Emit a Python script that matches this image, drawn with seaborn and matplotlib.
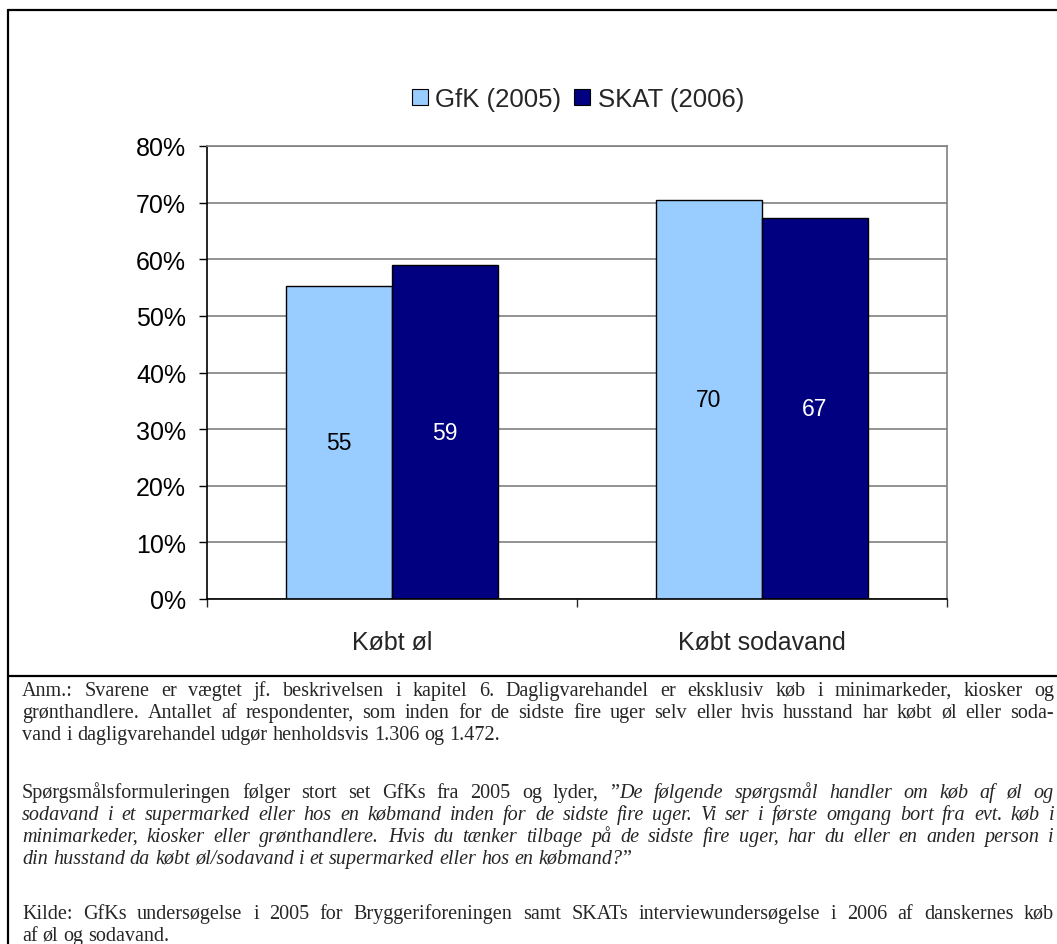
import seaborn as sns, matplotlib.pyplot as plt, pandas as pd
from matplotlib.patches import Patch
from matplotlib.lines import Line2D

categories = ["Købt øl", "Købt sodavand"]
series = ["GfK (2005)", "SKAT (2006)"]
gfk = [55.2, 70.4]
skat = [58.9, 67.3]
colors = ["#99CCFF", "#000080"]
label_colors = ["black", "white"]
yticks = [0, 10, 20, 30, 40, 50, 60, 70, 80]

notes = [
    ["Anm.: Svarene er vægtet jf. beskrivelsen i kapitel 6. Dagligvarehandel er eksklusiv køb i minimarkeder, kiosker og",
     "grønthandlere. Antallet af respondenter, som inden for de sidste fire uger selv eller hvis husstand har købt øl eller soda-",
     "vand i dagligvarehandel udgør henholdsvis 1.306 og 1.472."],
    ["Spørgsmålsformuleringen følger stort set GfKs fra 2005 og lyder, ”*De følgende spørgsmål handler om køb af øl og",
     "sodavand i et supermarked eller hos en købmand inden for de sidste fire uger. Vi ser i første omgang bort fra evt. køb i",
     "minimarkeder, kiosker eller grønthandlere. Hvis du tænker tilbage på de sidste fire uger, har du eller en anden person i",
     "din husstand da købt øl/sodavand i et supermarked eller hos en købmand?*”"],
    ["Kilde: GfKs undersøgelse i 2005 for Bryggeriforeningen samt SKATs interviewundersøgelse i 2006 af danskernes køb",
     "af øl og sodavand."],
]

W, H = 1057, 945
sns.set_style("white")
plt.rcParams["font.family"] = ["Liberation Sans", "DejaVu Sans"]

df = pd.DataFrame({
    "category": categories * 2,
    "series": [series[0]] * 2 + [series[1]] * 2,
    "value": gfk + skat,
})

fig = plt.figure(figsize=(W / 100, H / 100), dpi=100)
ax = fig.add_axes([207 / W, 1 - 600 / H, 740 / W, 453 / H])
sns.barplot(data=df, x="category", y="value", hue="series", order=categories,
            hue_order=series, palette=dict(zip(series, colors)), width=0.573,
            saturation=1, edgecolor="black", linewidth=1, legend=False, ax=ax)

for cont, lc in zip(ax.containers, label_colors):
    ax.bar_label(cont, fmt="%.0f", label_type="center", color=lc, fontsize=16.5)

ax.set_ylim(0, 80)
ax.set_xlim(-0.5, 1.5)
ax.set_yticks(yticks)
ax.set_yticklabels([f"{v}%" for v in yticks], fontsize=18)
ax.yaxis.grid(True, color="#808080", lw=1.2)
ax.set_axisbelow(True)
ax.tick_params(axis="y", direction="out", length=6, width=1, pad=9, left=True, colors="black")
ax.set_xticks([-0.5, 0.5, 1.5], minor=True)
ax.tick_params(axis="x", which="minor", direction="out", length=6, width=1, bottom=True)
ax.tick_params(axis="x", which="major", length=0, pad=22, labelsize=18)
ax.set_xlabel("")
ax.set_ylabel("")
for s in ["left", "bottom"]:
    ax.spines[s].set_color("black")
    ax.spines[s].set_linewidth(1.2)
for s in ["top", "right"]:
    ax.spines[s].set_color("#808080")
    ax.spines[s].set_linewidth(1.2)

handles = [Patch(facecolor=c, edgecolor="black", lw=0.8) for c in colors]
fig.legend(handles, series, loc="center", bbox_to_anchor=(578 / W, 1 - 100 / H), ncol=2,
           frameon=False, fontsize=18.5, handlelength=0.62, handleheight=0.62,
           handletextpad=0.3, columnspacing=0.5, borderpad=0)

# outer frame and separator
fig.add_artist(Line2D([8 / W, 8 / W], [0, 1 - 11 / H], color="black", lw=1.6, transform=fig.transFigure))
fig.add_artist(Line2D([8 / W, 1], [1 - 11 / H, 1 - 11 / H], color="black", lw=1.6, transform=fig.transFigure))
fig.add_artist(Line2D([8 / W, 1], [1 - 677 / H, 1 - 677 / H], color="black", lw=1.6, transform=fig.transFigure))

# justified note text
renderer = fig.canvas.get_renderer()
FS = 14.5
X0, X1 = 22, 1054

def text_w(s, italic):
    t = fig.text(0, 0, s, fontsize=FS, family="Liberation Serif", style="italic" if italic else "normal")
    w = t.get_window_extent(renderer).width
    t.remove()
    return w

space_w = text_w("x x", False) - text_w("xx", False)

def draw_line(words, y, justify):
    widths = [sum(text_w(p, it) for p, it in w) for w in words]
    gap = space_w
    if justify and len(words) > 1:
        gap = (X1 - X0 - sum(widths)) / (len(words) - 1)
    x = X0
    for w, ww in zip(words, widths):
        for p, it in w:
            fig.text(x / W, 1 - y / H, p, fontsize=FS, family="Liberation Serif",
                     style="italic" if it else "normal", va="baseline", ha="left")
            x += text_w(p, it)
        x += gap

para_y = [696, 798, 919]
for para, y0 in zip(notes, para_y):
    italic = False
    for i, line in enumerate(para):
        words = []
        for raw in line.split():
            pieces = []
            for j, part in enumerate(raw.split("*")):
                if j > 0:
                    italic = not italic
                if part:
                    pieces.append((part, italic))
            words.append(pieces)
        draw_line(words, y0 + 22 * i, i < len(para) - 1)

fig.savefig("out.png", dpi=100)
